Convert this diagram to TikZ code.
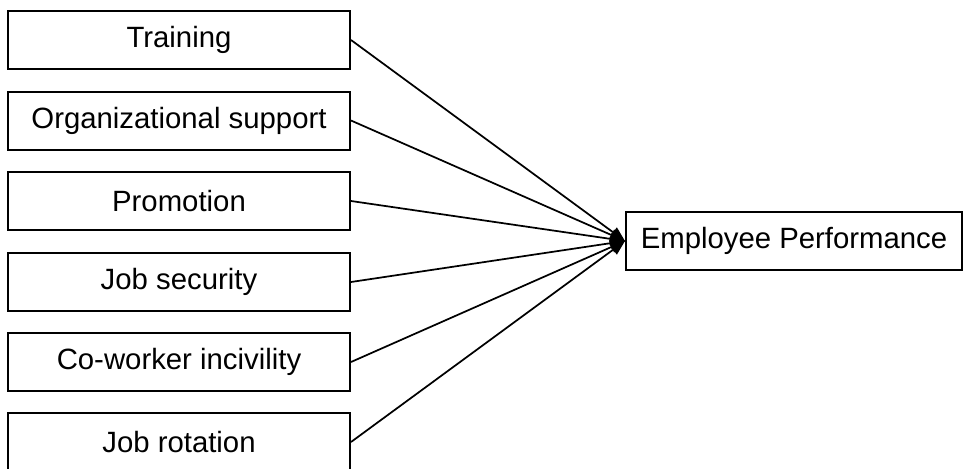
\documentclass[tikz,border=0pt]{standalone}
\usepackage{fontspec}
\setmainfont{Liberation Sans}
\usetikzlibrary{arrows.meta}
\begin{document}
\begin{tikzpicture}[x=0.75pt,y=-0.75pt,
  box/.style={draw=black, line width=1.5pt, rectangle, inner sep=0pt,
    minimum height=43.5pt, font=\fontsize{22}{26}\selectfont},
  lbox/.style={box, minimum width=256.5pt},
  link/.style={line width=1.3pt, -{Triangle[length=11pt,width=9pt]}}]
\useasboundingbox (0,0) rectangle (963,468);
\node[lbox] (tr) at (179,40) {Training};
\node[lbox] (os) at (179,120.5) {Organizational support};
\node[lbox] (pr) at (179,201) {Promotion};
\node[lbox] (js) at (179,282) {Job security};
\node[lbox] (ci) at (179,362) {Co-worker incivility};
\node[lbox] (jr) at (179,442) {Job rotation};
\node[box, minimum width=252pt] (ep) at (794,241) {Employee Performance};
\foreach \n in {tr,os,pr,js,ci,jr}
  \draw[link] (\n.east) -- (ep.west);
\end{tikzpicture}
\end{document}
